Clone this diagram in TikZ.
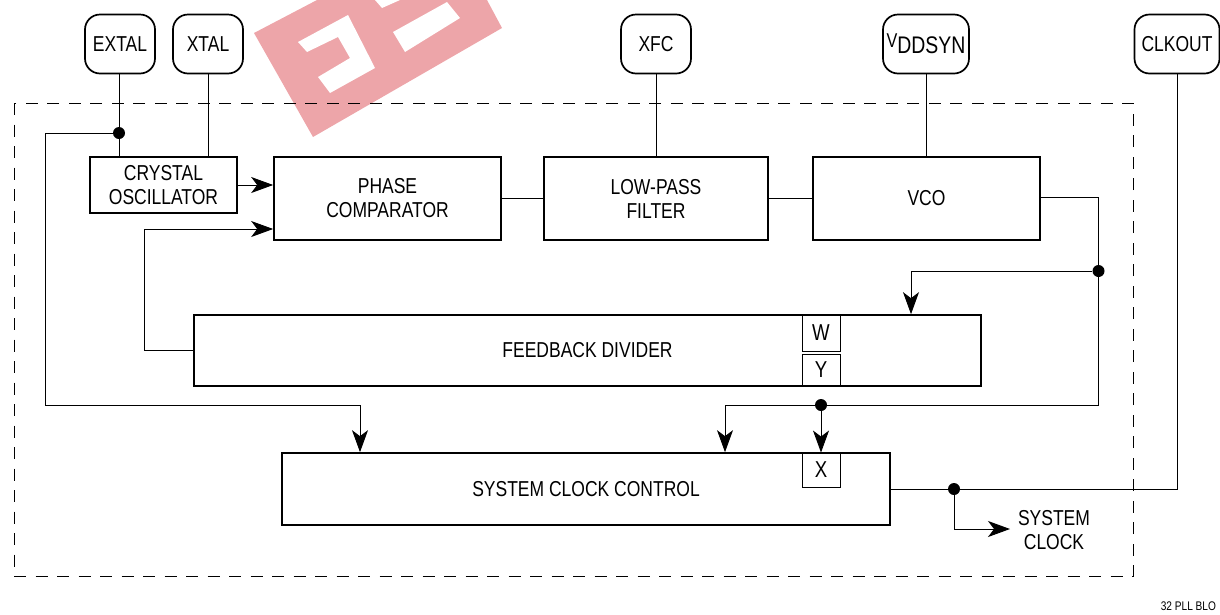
\documentclass[tikz,border=0pt]{standalone}
\usepackage{fontspec}
\setmainfont[FakeStretch=0.81]{Liberation Sans}
\usetikzlibrary{calc,positioning,arrows.meta}
\definecolor{stampred}{HTML}{EDA5A9}
\tikzset{
    block/.style={draw, line width=1.7pt, inner sep=0pt, align=center},
    pin/.style={draw, line width=1.7pt, rounded corners=15pt, inner sep=0pt, minimum height=59pt},
    tag/.style={draw, line width=0.9pt, inner sep=0pt, minimum width=38pt, font=\fontsize{23}{24}\selectfont},
    wire/.style={draw, line width=0.9pt},
    feed/.style={wire, -{Stealth[length=22pt,width=16pt,inset=6pt]}},
    junction/.style={circle, fill=black, inner sep=0pt, minimum size=12pt},
}
\begin{document}
\begin{tikzpicture}[x=1pt, y=-1pt, font=\fontsize{21.6}{24}\selectfont]
    \useasboundingbox (0,0) rectangle (1220,614);
    % stamp
    \fill[stampred] (254,33) -- (317,0) -- (487,0) -- (502,28) -- (313,137) -- cycle;
    \fill[white] (298,42) -- (348,15) -- (375,68) -- (330,93) -- (318,77) -- (350,58) -- (338,37) -- (307,52) -- cycle;
    \fill[white] (393,32) -- (447,2) -- (460,18) -- (405,52) -- cycle;
    \fill[white] (375,0) -- (400,0) -- (382,8) -- cycle;
    % frame
    \draw[line width=1pt, dash pattern=on 12pt off 9.5pt] (14,103) rectangle (1133,576);
    % pins
    \node[pin, minimum width=70pt] (extal) at (120,44) {EXTAL};
    \node[pin, minimum width=70pt] (xtal) at (208,44) {XTAL};
    \node[pin, minimum width=70pt] (xfc) at (656,44) {XFC};
    \node[pin, minimum width=86pt] (vddsyn) at (926,44) {\raisebox{4pt}{\fontsize{20}{20}\selectfont V}\raisebox{-2pt}{\fontsize{24}{24}\selectfont DDSYN}};
    \node[pin, minimum width=85pt] (clkout) at (1177,44) {CLKOUT};
    % blocks
    \node[block, minimum width=147pt, minimum height=56pt] (crystal) at (163.5,185) {CRYSTAL\\OSCILLATOR};
    \node[block, minimum width=227pt, minimum height=83pt] (phase) at (387.5,198.5) {PHASE\\COMPARATOR};
    \node[block, minimum width=224pt, minimum height=83pt] (lowpass) at (656,198.5) {LOW-PASS\\FILTER};
    \node[block, minimum width=227pt, minimum height=83pt] (vco) at (926.5,198.5) {VCO};
    \node[block, minimum width=787pt, minimum height=71pt] (divider) at (587.5,350.5) {FEEDBACK DIVIDER};
    \node[block, minimum width=608pt, minimum height=72pt] (sysctl) at (586,489) {SYSTEM CLOCK CONTROL};
    \node[tag, minimum height=36pt] (w) at (821,333) {W};
    \node[tag, minimum height=32pt] (y) at (821,370) {Y};
    \node[tag, minimum height=34pt] (x) at (821,470) {X};
    \node[align=center] (sysout) at (1054,530) {SYSTEM\\CLOCK};
    \node[font=\fontsize{12.5}{13}\selectfont, anchor=east] (code) at (1219.5,606) {32 PLL BLO};
    % junctions
    \node[junction] (dotin) at (119,133) {};
    \node[junction] (dotvco) at (1098.5,271) {};
    \node[junction] (dotx) at (821,405) {};
    \node[junction] (dotout) at (954,489) {};
    \coordinate (sysin) at (1010,529);
    % connectors
    \draw[wire] (extal.south -| dotin) -- (dotin) -- (dotin |- crystal.north);
    \draw[wire] (xtal) -- (xtal |- crystal.north);
    \draw[wire] (xfc) -- (xfc |- lowpass.north);
    \draw[wire] (vddsyn) -- (vddsyn |- vco.north);
    \draw[wire] (phase.east) -- (lowpass.west);
    \draw[wire] (lowpass.east) -- (vco.west);
    \draw[feed] (crystal.east) -- (crystal.east -| phase.west);
    \draw[feed] (divider.west) -- (144,0 |- divider.west) -- (144,229) -- (phase.west |- 0,229);
    \draw[feed] (dotin) -- (45,133) -- (45,405) -- (360,405) -- (360,405 |- sysctl.north);
    \draw[wire] (vco.east |- 0,197) -- (1098.5,197) -- (1098.5,405) -- (dotx);
    \draw[feed] (dotx) -- (725,405) -- (725,405 |- sysctl.north);
    \draw[feed] (dotx) -- (x.north);
    \draw[feed] (dotvco) -- (911,271) -- (911,271 |- divider.north);
    \draw[wire] (sysctl.east) -- (1177,0 |- sysctl.east) -- (clkout.south -| 1177,0);
    \draw[feed] (dotout) -- (954,529) -- (sysin);
\end{tikzpicture}
\end{document}
